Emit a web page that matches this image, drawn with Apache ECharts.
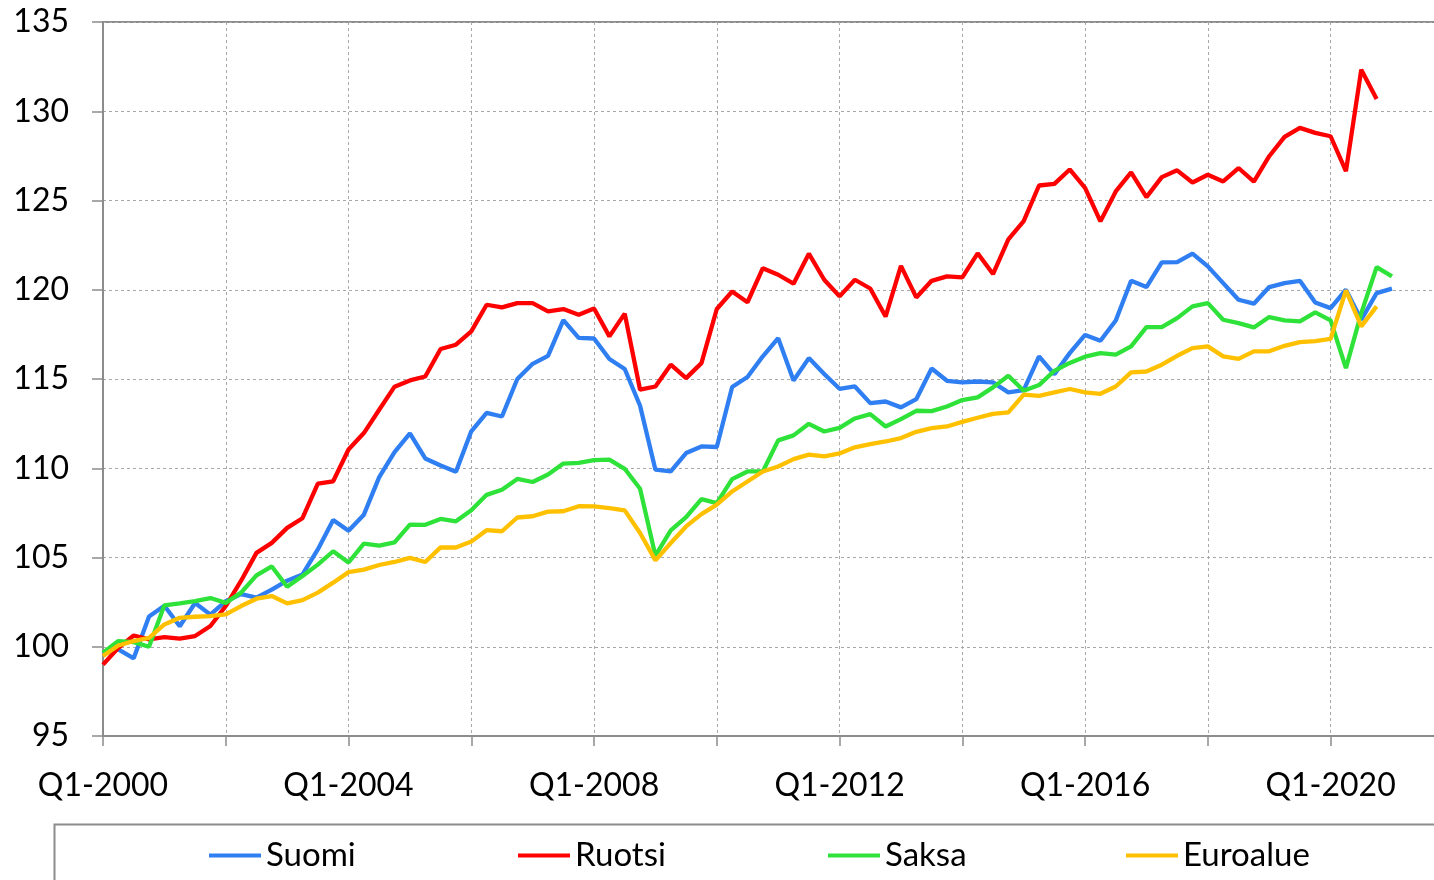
<!DOCTYPE html>
<html>
<head>
<meta charset="utf-8">
<script src="https://cdn.jsdelivr.net/npm/echarts@6/dist/echarts.min.js"></script>
<style>
html,body{margin:0;padding:0;background:#fff;}
#chart{width:1434px;height:880px;}
</style>
</head>
<body>
<div id="chart"></div>
<script>
// Quarterly categories Q1-2000 ... Q4-2021
const years = [2000,2001,2002,2003,2004,2005,2006,2007,2008,2009,2010,2011,2012,2013,2014,2015,2016,2017,2018,2019,2020,2021];
const quarters = ['Q1','Q2','Q3','Q4'];
const categories = [];
years.forEach(y => quarters.forEach(q => categories.push(q + '-' + y)));

const seriesNames = ['Suomi','Ruotsi','Saksa','Euroalue'];

const suomi = [99.6,99.85,99.35,101.7,102.3,101.15,102.45,101.8,102.55,102.95,102.75,103.2,103.7,104.05,105.45,107.1,
  106.5,107.4,109.5,110.9,111.95,110.55,110.15,109.8,112.07,113.1,112.9,115.0,115.85,116.3,118.3,117.3,
  117.27,116.12,115.56,113.5,109.92,109.82,110.85,111.22,111.19,114.55,115.11,116.27,117.29,114.92,116.17,115.28,
  114.45,114.58,113.65,113.74,113.41,113.87,115.59,114.9,114.81,114.86,114.81,114.25,114.38,116.27,115.26,116.45,
  117.47,117.14,118.28,120.5,120.15,121.53,121.55,122.02,121.31,120.37,119.44,119.22,120.15,120.37,120.5,119.29,
  118.97,120.0,118.32,119.81,120.06];

const ruotsi = [99.0,99.94,100.63,100.41,100.54,100.45,100.6,101.16,102.28,103.7,105.26,105.82,106.66,107.2,109.14,109.27,
  111.05,111.97,113.28,114.57,114.92,115.14,116.68,116.92,117.67,119.16,119.01,119.25,119.25,118.79,118.92,118.6,
  118.95,117.39,118.66,114.4,114.58,115.8,115.05,115.89,118.92,119.9,119.3,121.21,120.84,120.34,122.02,120.56,
  119.63,120.56,120.07,118.5,121.34,119.57,120.5,120.75,120.69,122.04,120.88,122.82,123.84,125.84,125.93,126.74,
  125.71,123.83,125.51,126.57,125.19,126.31,126.69,126.01,126.44,126.07,126.82,126.06,127.48,128.56,129.07,128.79,
  128.6,126.64,132.33,130.69];

const saksa = [99.66,100.32,100.26,100.0,102.32,102.43,102.56,102.73,102.46,103.03,104.0,104.5,103.36,103.96,104.6,105.35,
  104.72,105.78,105.67,105.85,106.84,106.83,107.16,107.03,107.65,108.51,108.8,109.4,109.23,109.65,110.26,110.3,
  110.45,110.48,109.97,108.85,105.1,106.52,107.26,108.27,108.05,109.39,109.82,109.82,111.56,111.84,112.49,112.06,
  112.26,112.79,113.03,112.34,112.75,113.22,113.2,113.46,113.82,113.97,114.53,115.18,114.34,114.66,115.46,115.9,
  116.25,116.45,116.36,116.83,117.91,117.91,118.41,119.07,119.25,118.32,118.13,117.89,118.47,118.28,118.23,118.73,
  118.28,115.61,118.69,121.27,120.75];

const euroalue = [99.48,100.07,100.32,100.5,101.25,101.62,101.68,101.72,101.81,102.28,102.69,102.84,102.43,102.61,103.03,103.59,
  104.18,104.32,104.58,104.75,104.98,104.75,105.57,105.56,105.89,106.53,106.47,107.24,107.31,107.57,107.59,107.87,
  107.86,107.77,107.64,106.37,104.84,105.81,106.74,107.43,107.96,108.7,109.26,109.82,110.1,110.51,110.76,110.66,
  110.83,111.17,111.35,111.5,111.69,112.04,112.25,112.34,112.6,112.83,113.05,113.13,114.12,114.06,114.25,114.44,
  114.25,114.17,114.58,115.37,115.42,115.8,116.3,116.73,116.83,116.27,116.13,116.55,116.55,116.86,117.07,117.12,
  117.25,119.96,117.95,119.07];

const colors = ['#2f7ff2','#ff0000','#2ee23a','#ffc000'];
const yTicks = {min:95, max:135, interval:5};

const FONT = 'Lato';
const chart = echarts.init(document.getElementById('chart'), null, {renderer:'canvas'});

const dataList = [suomi, ruotsi, saksa, euroalue];
const legendLefts = [204, 513, 823, 1121];

const option = {
  animation:false,
  backgroundColor:'#fff',
  grid:{left:103, top:22, right:-4, bottom:144, outerBoundsMode:'none', show:true, borderColor:'#8c8c8c', borderWidth:2, containLabel:false},
  xAxis:{
    type:'category', data:categories, boundaryGap:false,
    axisLine:{show:true, lineStyle:{color:'#8c8c8c', width:2}},
    axisTick:{show:true, interval:7, length:10, lineStyle:{color:'#8c8c8c', width:1.5}},
    axisLabel:{interval:15, color:'#000', fontFamily:FONT, fontSize:32, margin:34},
    splitLine:{show:true, interval:7, lineStyle:{color:'#a8a8a8', width:1, type:[3,3]}}
  },
  yAxis:{
    type:'value', min:yTicks.min, max:yTicks.max, interval:yTicks.interval,
    axisLine:{show:true, lineStyle:{color:'#8c8c8c', width:2}},
    axisTick:{show:true, length:11, lineStyle:{color:'#8c8c8c', width:1.5}},
    axisLabel:{color:'#000', fontFamily:FONT, fontSize:32, margin:34},
    splitLine:{show:true, lineStyle:{color:'#a8a8a8', width:1, type:[3,3]}}
  },
  legend: seriesNames.map((n,i)=>({
    data:[n], left:legendLefts[i], top:834, icon:'rect', itemWidth:52, itemHeight:4,
    textStyle:{fontFamily:FONT, fontSize:33, color:'#000', padding:[0,0,0,0]}, itemGap:5
  })),
  graphic:[{type:'rect', left:52, top:822, shape:{width:1420, height:100}, style:{fill:'none', stroke:'#8c8c8c', lineWidth:2}, z:-1}],
  series: seriesNames.map((n,i)=>({
    name:n, type:'line', data:dataList[i], showSymbol:false, symbol:'none',
    lineStyle:{color:colors[i], width:4.3}, itemStyle:{color:colors[i]}, z:2+i
  }))
};
chart.setOption(option);
</script>
</body>
</html>
